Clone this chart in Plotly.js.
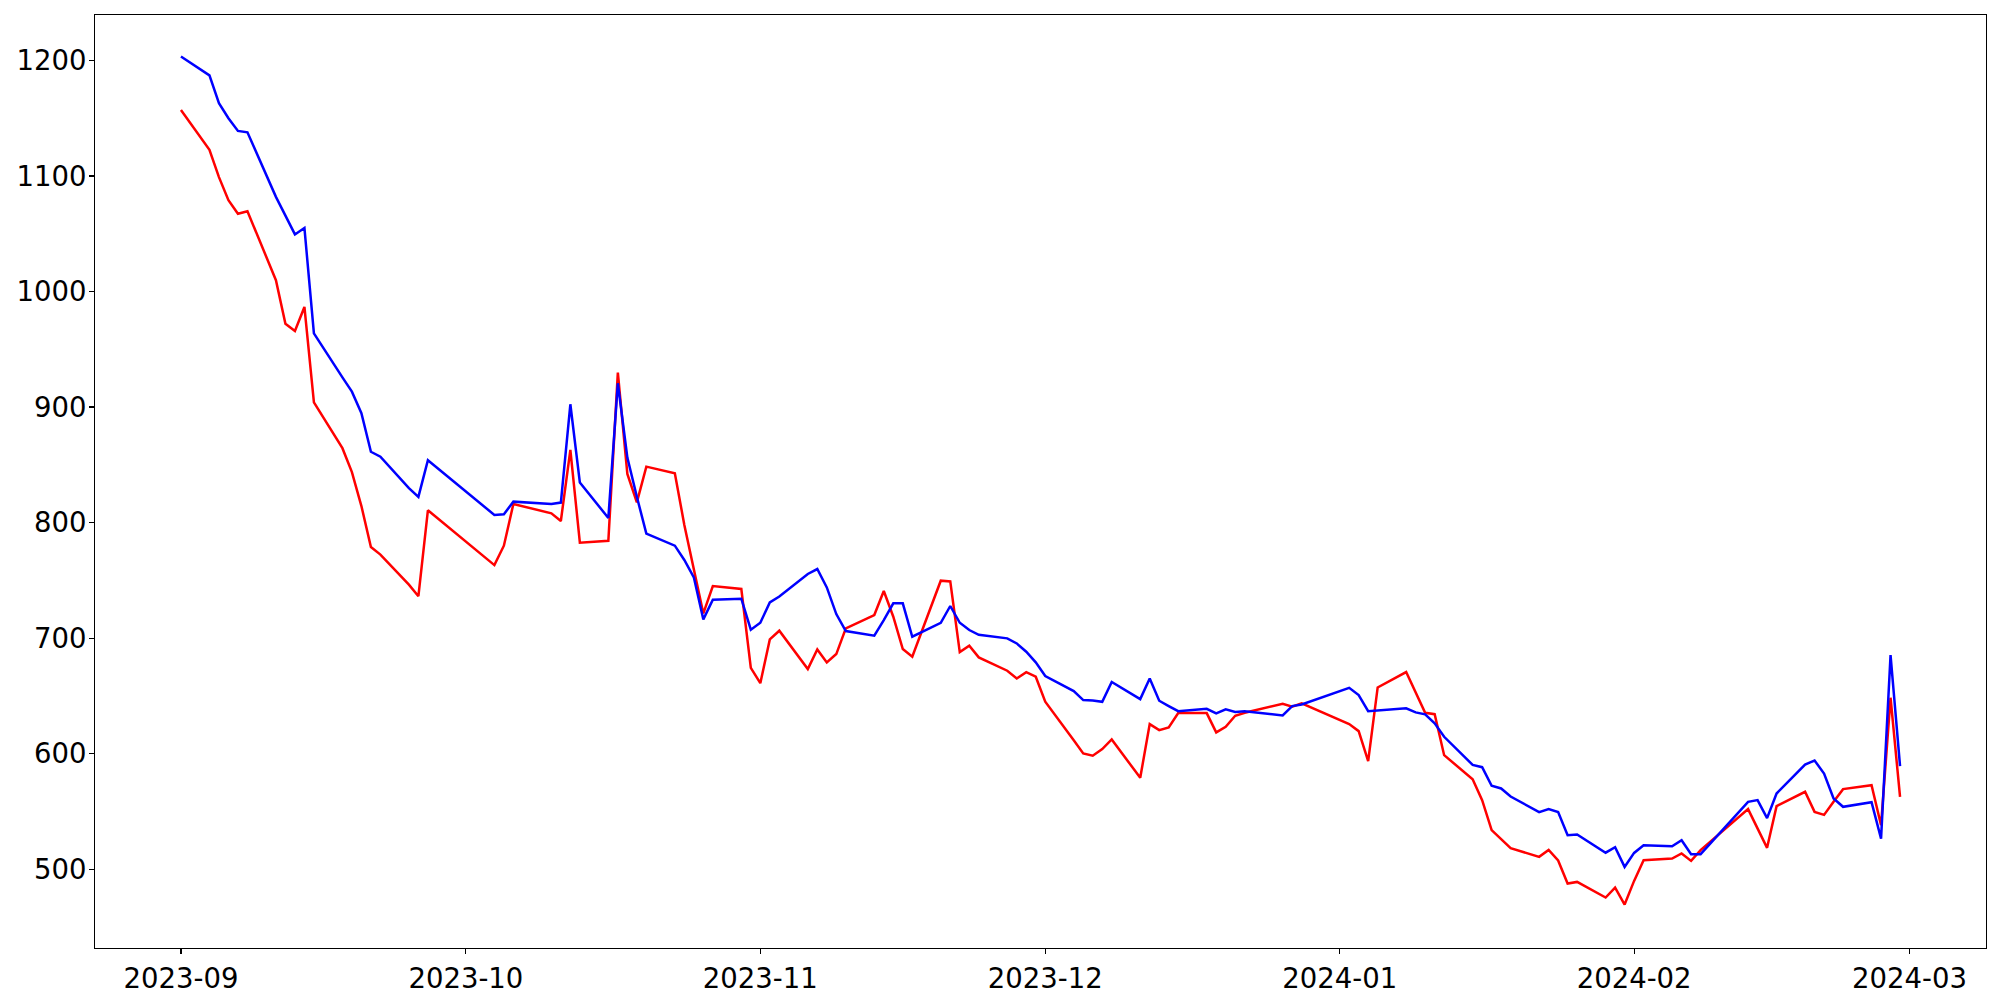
<!DOCTYPE html>
<html>
<head>
<meta charset="utf-8">
<script src="https://cdn.plot.ly/plotly-3.0.1.min.js"></script>
<style>
  html, body { margin: 0; padding: 0; background: #ffffff; }
  #chart { width: 2000px; height: 1000px; }
</style>
</head>
<body>
<div id="chart"></div>
<script>
const dates = [
  "2023-09-01","2023-09-04","2023-09-05","2023-09-06","2023-09-07","2023-09-08",
  "2023-09-11","2023-09-12","2023-09-13","2023-09-14","2023-09-15",
  "2023-09-18","2023-09-19","2023-09-20","2023-09-21","2023-09-22",
  "2023-09-25","2023-09-26","2023-09-27",
  "2023-10-04","2023-10-05","2023-10-06",
  "2023-10-10","2023-10-11","2023-10-12","2023-10-13",
  "2023-10-16","2023-10-17","2023-10-18","2023-10-19","2023-10-20",
  "2023-10-23","2023-10-24","2023-10-25","2023-10-26","2023-10-27",
  "2023-10-30","2023-10-31","2023-11-01","2023-11-02","2023-11-03",
  "2023-11-06","2023-11-07","2023-11-08","2023-11-09","2023-11-10",
  "2023-11-13","2023-11-14","2023-11-15","2023-11-16","2023-11-17",
  "2023-11-20","2023-11-21","2023-11-22","2023-11-23","2023-11-24",
  "2023-11-27","2023-11-28","2023-11-29","2023-11-30","2023-12-01",
  "2023-12-04","2023-12-05","2023-12-06","2023-12-07","2023-12-08",
  "2023-12-11","2023-12-12","2023-12-13","2023-12-14","2023-12-15",
  "2023-12-18","2023-12-19","2023-12-20","2023-12-21","2023-12-22",
  "2023-12-26","2023-12-27","2023-12-28",
  "2024-01-02","2024-01-03","2024-01-04","2024-01-05",
  "2024-01-08","2024-01-09","2024-01-10","2024-01-11","2024-01-12",
  "2024-01-15","2024-01-16","2024-01-17","2024-01-18","2024-01-19",
  "2024-01-22","2024-01-23","2024-01-24","2024-01-25","2024-01-26",
  "2024-01-29","2024-01-30","2024-01-31","2024-02-01","2024-02-02",
  "2024-02-05","2024-02-06","2024-02-07","2024-02-08",
  "2024-02-13","2024-02-14","2024-02-15","2024-02-16",
  "2024-02-19","2024-02-20","2024-02-21","2024-02-22","2024-02-23",
  "2024-02-26","2024-02-27","2024-02-28","2024-02-29"
];

const blueValues = [
  1203.4,1187,1163,1150,1139,1137.8,
  1081.9,1065.8,1049.4,1055,963.7,
  925.7,913.3,894.7,861.3,857,
  829.8,822.3,853.9,
  806.6,807.2,818.1,
  816.1,817.3,902.4,834.6,
  804,920.6,856.2,822.4,790.4,
  780,767.6,752.6,716.2,733.3,
  734.1,707.3,713.3,730.9,736,
  755.5,759.8,743.9,720.8,706.1,
  702.1,715.6,730.1,730.1,701.2,
  713.3,727.8,713.3,707,702.9,
  699.8,695.4,688.2,679,667.2,
  654.2,646.4,646.1,644.9,662,
  647.2,665.1,645.8,641.2,636.8,
  638.8,634.8,638.3,636,636.8,
  633.1,641.2,642.5,
  657,650.7,636.8,637.4,
  639.2,635.7,634,626.2,614.6,
  590.3,588.3,572.2,569.9,562.9,
  549.4,552,549.4,529.4,530,
  514.3,519,502,514.1,520.8,
  519.9,525.1,513,513,
  558.3,559.8,544.2,565.5,
  590.6,594.1,582.8,561.2,554,
  558,526.5,685.3,589.2
];

const redValues = [
  1157,1122.7,1099,1079,1067.3,1069.5,
  1009.8,972.1,965.8,986.6,904,
  864.4,843.7,814.3,778.8,772.3,
  746.3,736.3,810.6,
  763.2,780,816.1,
  808,801.4,862.9,782.6,
  784.3,929.8,842.1,817.5,848.4,
  842.7,798,760,721.4,745.1,
  742.5,674.2,661,698.9,706.4,
  673.2,690.2,679,686.2,708.4,
  720,740.8,718.5,690.5,683.9,
  749.7,749.1,687.9,693.4,683.3,
  671.8,665.1,670.6,666.6,645,
  611.7,600.2,598.2,603.9,612.3,
  579.1,625.6,620.4,622.7,635.1,
  635.1,618.4,623.3,632.8,635.4,
  643.2,640.6,643.5,
  625.6,619.5,593.5,657.3,
  670.6,653,635.4,634.2,598.7,
  577.9,559.8,533.8,525.7,518.2,
  510.7,516.7,507.5,487.6,489,
  475.5,484,469.4,489.9,507.8,
  509.2,513.6,507.2,516.5,
  552,535.2,518.5,554.6,
  567,549.6,547,558.3,569.3,
  572.7,538.1,648.4,562.6
];

const xTickVals = ["2023-09-01","2023-10-01","2023-11-01","2023-12-01","2024-01-01","2024-02-01","2024-03-01"];
const xTickText = ["2023-09","2023-10","2023-11","2023-12","2024-01","2024-02","2024-03"];
const yTickVals = [500, 600, 700, 800, 900, 1000, 1100, 1200];

const traces = [
  { x: dates, y: redValues, type: "scatter", mode: "lines",
    line: { color: "#ff0000", width: 2.5 }, showlegend: false, hoverinfo: "skip" },
  { x: dates, y: blueValues, type: "scatter", mode: "lines",
    line: { color: "#0000ff", width: 2.5 }, showlegend: false, hoverinfo: "skip" }
];

const axisFont = { family: "DejaVu Sans, sans-serif", size: 27.5, color: "#000000" };

const layout = {
  width: 2000, height: 1000,
  paper_bgcolor: "#ffffff", plot_bgcolor: "#ffffff",
  margin: { l: 95, r: 14, t: 15, b: 52, pad: 0 },
  showlegend: false,
  xaxis: {
    type: "date",
    range: ["2023-08-22 22:48", "2024-03-09 01:12"],
    tickmode: "array", tickvals: xTickVals, ticktext: xTickText,
    ticks: "outside", ticklen: 5, tickwidth: 1.1, tickcolor: "#000000",
    showline: true, mirror: true, linecolor: "#000000", linewidth: 1.1,
    showgrid: false, zeroline: false,
    tickfont: axisFont, ticklabelstandoff: 1
  },
  yaxis: {
    range: [431.8, 1239.3],
    tickmode: "array", tickvals: yTickVals,
    ticks: "outside", ticklen: 5, tickwidth: 1.1, tickcolor: "#000000",
    showline: true, mirror: true, linecolor: "#000000", linewidth: 1.1,
    showgrid: false, zeroline: false,
    tickfont: axisFont, ticklabelstandoff: -3
  }
};

Plotly.newPlot("chart", traces, layout, { staticPlot: true, displayModeBar: false });
</script>
</body>
</html>
